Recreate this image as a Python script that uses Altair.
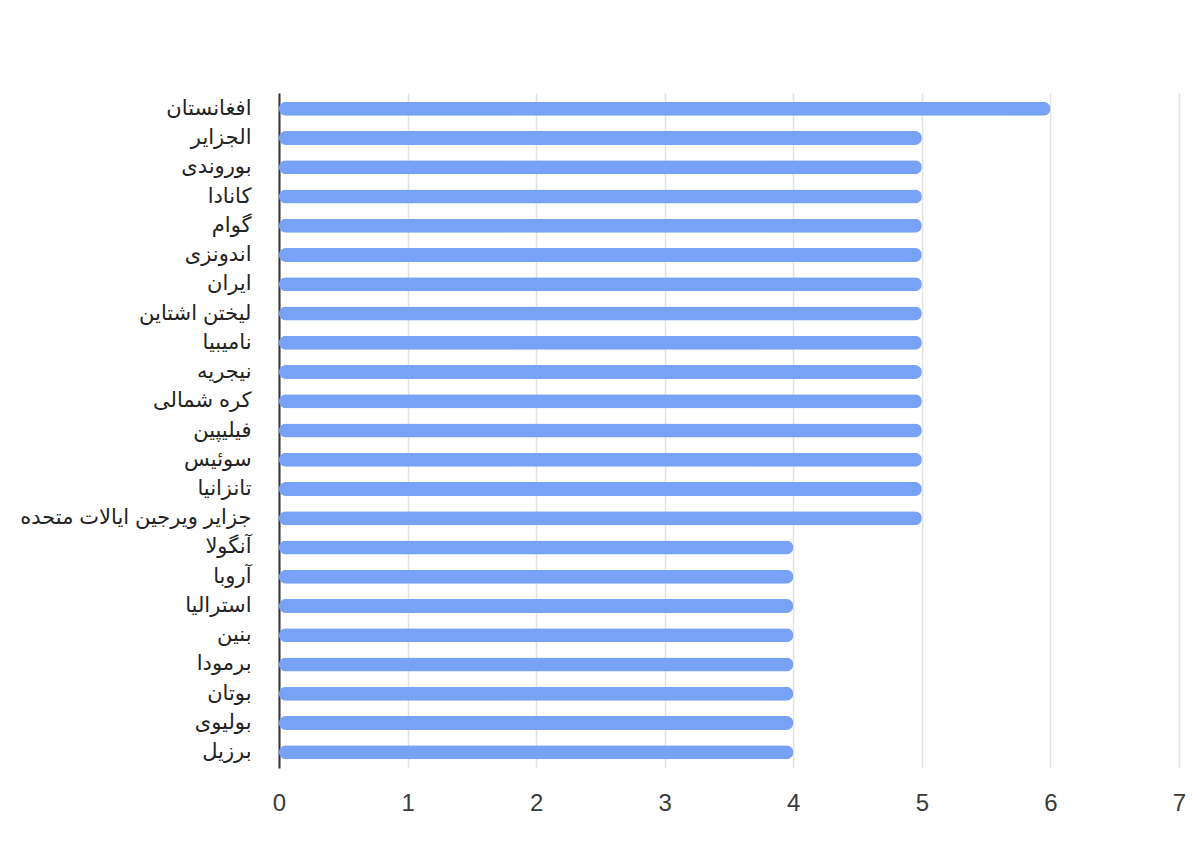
import altair as alt
import pandas as pd

countries = [
    "افغانستان", "الجزایر", "بوروندی", "کانادا", "گوام", "اندونزی", "ایران",
    "لیختن اشتاین", "نامیبیا", "نیجریه", "کره شمالی", "فیلیپین", "سوئیس",
    "تانزانیا", "جزایر ویرجین ایالات متحده", "آنگولا", "آروبا", "استرالیا",
    "بنین", "برمودا", "بوتان", "بولیوی", "برزیل",
]
values = [6, 5, 5, 5, 5, 5, 5, 5, 5, 5, 5, 5, 5, 5, 5, 4, 4, 4, 4, 4, 4, 4, 4]

df = pd.DataFrame({"country": countries, "value": values})

FONT = "Liberation Sans, DejaVu Sans, Arial, sans-serif"

chart = (
    alt.Chart(df)
    .mark_bar(color="#78a2f5", cornerRadius=7)
    .encode(
        x=alt.X(
            "value:Q",
            scale=alt.Scale(domain=[0, 7], nice=False),
            axis=alt.Axis(
                title=None,
                values=[0, 1, 2, 3, 4, 5, 6, 7],
                format="d",
                domain=False,
                ticks=False,
                grid=True,
                gridColor="#e2e2e2",
                gridWidth=1.5,
                labelFontSize=24,
                labelColor="#3a3a3a",
                labelFont=FONT,
                labelPadding=23,
                labelFlush=False,
            ),
        ),
        y=alt.Y(
            "country:N",
            sort=countries,
            scale=alt.Scale(paddingInner=0.52, paddingOuter=0.3),
            axis=alt.Axis(
                title=None,
                domain=True,
                domainColor="#333333",
                domainWidth=2,
                ticks=False,
                grid=False,
                labelFontSize=21,
                labelColor="#222222",
                labelFont=FONT,
                labelPadding=28,
                labelLimit=400,
            ),
        ),
    )
    .properties(
        width=900,
        height=675,
        autosize=alt.AutoSizeParams(type="none"),
        padding={"left": 271, "top": 85, "right": 12, "bottom": 60},
    )
    .configure_view(stroke=None)
)

chart.save("out.html", embed_options={"renderer": "svg", "actions": False})
